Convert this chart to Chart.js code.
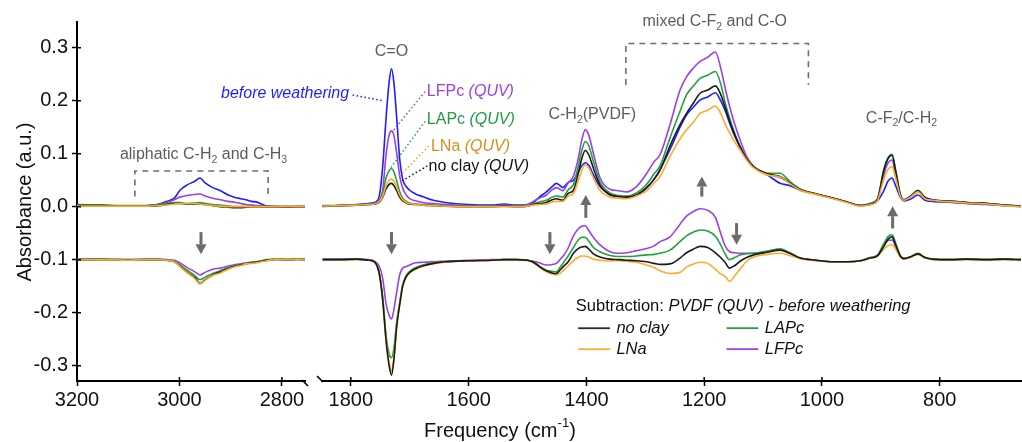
<!DOCTYPE html>
<html><head><meta charset="utf-8">
<script src="https://cdn.jsdelivr.net/npm/chart.js@4.4.1/dist/chart.umd.min.js"></script>
<style>html,body{margin:0;padding:0;background:#fff;}canvas{display:block;}</style>
</head><body>
<canvas id="c" width="1022" height="442"></canvas>
<script>
// ---------- tick labels ----------
const xTicksLeft = [3200, 3000, 2800];
const xTicksRight = [1800, 1600, 1400, 1200, 1000, 800];
const yTicks = [-0.3, -0.2, -0.1, 0.0, 0.1, 0.2, 0.3];

// ---------- frequencies (cm-1) ----------
const freqLeft = [3200,3150,3100,3060,3040, 3025,3010,2999,2985,2970, 2960,2950,2935,2920,2905, 2890,2880,2870,2860,2850, 2840,2829,2810,2790,2770, 2755];
const freqRight = [1848,1820,1790,1770,1760, 1752,1746,1740,1735,1731, 1727,1722,1717,1712,1706, 1700,1690,1678,1660,1640,
  1600,1560,1540,1520,1500, 1490,1480,1468,1458,1451, 1445,1440,1431,1422,1414, 1408,1402,1396,1388,1377,
  1360,1345,1332,1315,1298, 1285,1275,1258,1241,1230, 1218,1207,1194,1181,1172, 1164,1157,1148,1139,1128,
  1116,1093,1071,1055,1037, 1010,981,955,935,918, 906,895,888,881,875, 867,861,850,837,825, 812,780,755,720,690, 662];

// ---------- upper spectra, left region ----------
const beforeLeft = [0.003,0.002,0.001,0.002,0.005, 0.010,0.016,0.031,0.041,0.048, 0.054,0.045,0.036,0.030,0.022, 0.017,0.015,0.013,0.010,0.009, 0.005,0.001,0.000,0.000,0.000, -0.001];
const lfpcLeft = [0.002,0.002,0.001,0.002,0.004, 0.008,0.013,0.018,0.021,0.023, 0.024,0.020,0.016,0.013,0.010, 0.008,0.006,0.004,0.003,0.002, 0.001,0.000,0.000,0.000,0.000, 0.000];
const lapcLeft = [0.004,0.003,0.002,0.002,0.004, 0.006,0.008,0.008,0.006,0.007, 0.008,0.006,0.004,0.003,0.001, 0.000,0.000,0.000,0.000,0.000, 0.000,0.000,0.000,0.000,0.000, 0.000];
const noclayLeft = [0.002,0.002,0.001,0.001,0.002, 0.004,0.006,0.006,0.005,0.005, 0.005,0.004,0.002,0.000,-0.001, -0.002,-0.002,-0.001,0.000,0.000, 0.000,0.000,0.000,-0.001,0.000, 0.000];
const lnaLeft = [0.001,0.001,0.001,0.001,0.002, 0.003,0.005,0.006,0.006,0.006, 0.005,0.004,0.002,0.001,0.000, 0.000,0.000,0.000,0.000,0.000, 0.000,0.000,0.000,0.000,0.000, 0.000];

// ---------- subtraction spectra, left region ----------
const subNoclayLeft = [-0.100,-0.100,-0.101,-0.100,-0.100, -0.101,-0.104,-0.112,-0.124,-0.134, -0.145,-0.138,-0.129,-0.123,-0.117, -0.112,-0.110,-0.108,-0.106,-0.105, -0.103,-0.101,-0.099,-0.100,-0.099, -0.100];
const subLnaLeft = [-0.100,-0.100,-0.101,-0.100,-0.100, -0.101,-0.104,-0.113,-0.125,-0.136, -0.146,-0.139,-0.130,-0.125,-0.118, -0.113,-0.111,-0.108,-0.107,-0.106, -0.104,-0.102,-0.099,-0.100,-0.099, -0.100];
const subLapcLeft = [-0.100,-0.099,-0.100,-0.100,-0.100, -0.101,-0.103,-0.110,-0.120,-0.130, -0.138,-0.133,-0.126,-0.121,-0.115, -0.111,-0.109,-0.107,-0.105,-0.104, -0.102,-0.100,-0.099,-0.100,-0.099, -0.099];
const subLfpcLeft = [-0.099,-0.099,-0.100,-0.099,-0.099, -0.100,-0.101,-0.106,-0.115,-0.123, -0.129,-0.124,-0.118,-0.116,-0.112, -0.109,-0.108,-0.106,-0.105,-0.104, -0.103,-0.101,-0.100,-0.100,-0.100, -0.100];

// ---------- upper spectra, right region ----------
const beforeRight = [0.001,0.002,0.004,0.006,0.008, 0.019,0.075,0.170,0.235,0.260, 0.235,0.165,0.090,0.052,0.038, 0.031,0.024,0.019,0.012,0.008,
  0.004,0.003,0.005,0.003,0.004, 0.008,0.018,0.028,0.038,0.044, 0.040,0.036,0.046,0.050,0.065, 0.077,0.083,0.078,0.060,0.038,
  0.024,0.020,0.018,0.022,0.035, 0.052,0.070,0.108,0.150,0.173, 0.188,0.201,0.207,0.215,0.200, 0.180,0.158,0.133,0.113,0.092,
  0.075,0.060,0.044,0.040,0.031, 0.024,0.016,0.008,0.002,0.004, 0.011,0.030,0.048,0.054,0.040, 0.018,0.011,0.014,0.022,0.012, 0.010,0.008,0.006,0.004,0.002, 0.000];
const lfpcRight = [0.000,0.002,0.003,0.005,0.006, 0.012,0.031,0.100,0.135,0.143, 0.135,0.100,0.057,0.035,0.022, 0.015,0.011,0.008,0.006,0.004,
  0.002,0.001,0.003,0.002,0.004, 0.010,0.016,0.022,0.032,0.036, 0.033,0.030,0.045,0.058,0.090, 0.125,0.145,0.135,0.100,0.055,
  0.033,0.030,0.028,0.038,0.062, 0.085,0.098,0.155,0.220,0.245, 0.262,0.274,0.282,0.292,0.262, 0.222,0.190,0.155,0.126,0.095,
  0.076,0.062,0.055,0.045,0.033, 0.024,0.016,0.008,0.002,0.006, 0.014,0.060,0.082,0.088,0.060, 0.022,0.013,0.018,0.028,0.016, 0.012,0.010,0.008,0.006,0.003, 0.001];
const lapcRight = [0.002,0.002,0.003,0.004,0.005, 0.010,0.025,0.055,0.068,0.072, 0.066,0.048,0.028,0.016,0.010, 0.007,0.005,0.004,0.003,0.002,
  0.001,0.001,0.001,0.001,0.002, 0.005,0.009,0.012,0.018,0.020, 0.019,0.018,0.032,0.042,0.075, 0.105,0.123,0.115,0.085,0.047,
  0.026,0.021,0.020,0.026,0.042, 0.062,0.077,0.130,0.180,0.211, 0.228,0.242,0.248,0.255,0.232, 0.195,0.168,0.138,0.113,0.090,
  0.075,0.063,0.063,0.048,0.033, 0.024,0.016,0.008,0.002,0.006, 0.014,0.070,0.092,0.099,0.070, 0.024,0.013,0.020,0.031,0.018, 0.013,0.010,0.008,0.006,0.003, 0.001];
const noclayRight = [0.001,0.002,0.003,0.004,0.005, 0.008,0.018,0.034,0.042,0.044, 0.040,0.030,0.018,0.011,0.007, 0.005,0.004,0.003,0.002,0.001,
  0.000,0.000,0.001,0.000,0.001, 0.004,0.006,0.008,0.013,0.015, 0.013,0.012,0.025,0.031,0.062, 0.090,0.106,0.098,0.072,0.041,
  0.022,0.019,0.018,0.022,0.036, 0.052,0.069,0.115,0.155,0.176, 0.196,0.214,0.220,0.228,0.212, 0.186,0.162,0.135,0.113,0.090,
  0.075,0.062,0.057,0.045,0.032, 0.024,0.016,0.008,0.002,0.005, 0.013,0.068,0.090,0.097,0.068, 0.023,0.013,0.019,0.030,0.017, 0.013,0.010,0.008,0.006,0.003, 0.001];
const lnaRight = [0.001,0.002,0.003,0.004,0.005, 0.009,0.020,0.040,0.050,0.052, 0.048,0.036,0.022,0.013,0.008, 0.006,0.004,0.003,0.002,0.001,
  0.000,0.000,0.000,0.000,0.001, 0.003,0.004,0.005,0.009,0.010, 0.010,0.010,0.020,0.025,0.048, 0.068,0.079,0.073,0.054,0.031,
  0.018,0.016,0.015,0.020,0.030, 0.045,0.057,0.095,0.128,0.145, 0.160,0.176,0.182,0.190,0.176, 0.155,0.140,0.122,0.107,0.088,
  0.073,0.060,0.056,0.044,0.031, 0.023,0.015,0.007,0.001,0.004, 0.011,0.052,0.070,0.075,0.055, 0.020,0.012,0.018,0.028,0.015, 0.012,0.009,0.007,0.005,0.002, 0.000];

// ---------- subtraction spectra, right region ----------
const subNoclayRight = [-0.100,-0.100,-0.099,-0.101,-0.104, -0.125,-0.175,-0.255,-0.300,-0.318, -0.290,-0.225,-0.185,-0.150,-0.132, -0.124,-0.117,-0.112,-0.107,-0.104,
  -0.102,-0.101,-0.100,-0.100,-0.101, -0.105,-0.113,-0.121,-0.125,-0.126, -0.120,-0.114,-0.104,-0.088,-0.079, -0.076,-0.075,-0.080,-0.089,-0.095,
  -0.099,-0.100,-0.101,-0.102,-0.104, -0.107,-0.109,-0.108,-0.097,-0.087, -0.080,-0.075,-0.077,-0.087,-0.096, -0.106,-0.116,-0.111,-0.103,-0.096,
  -0.091,-0.086,-0.082,-0.088,-0.097, -0.101,-0.104,-0.104,-0.102,-0.097, -0.093,-0.075,-0.062,-0.057,-0.072, -0.093,-0.098,-0.095,-0.089,-0.096, -0.099,-0.100,-0.099,-0.100,-0.099, -0.100];
const subLapcRight = [-0.100,-0.100,-0.099,-0.101,-0.104, -0.123,-0.170,-0.245,-0.278,-0.285, -0.268,-0.215,-0.180,-0.147,-0.130, -0.122,-0.115,-0.110,-0.106,-0.104,
  -0.102,-0.101,-0.100,-0.100,-0.101, -0.104,-0.112,-0.120,-0.122,-0.123, -0.115,-0.107,-0.093,-0.077,-0.063, -0.058,-0.058,-0.065,-0.077,-0.085,
  -0.092,-0.094,-0.094,-0.093,-0.091, -0.090,-0.088,-0.082,-0.066,-0.055, -0.048,-0.044,-0.046,-0.056,-0.072, -0.090,-0.100,-0.096,-0.091,-0.089,
  -0.088,-0.084,-0.080,-0.087,-0.097, -0.101,-0.104,-0.104,-0.102,-0.096, -0.092,-0.070,-0.057,-0.053,-0.068, -0.092,-0.098,-0.095,-0.088,-0.096, -0.099,-0.100,-0.099,-0.100,-0.099, -0.100];
const subLfpcRight = [-0.099,-0.099,-0.099,-0.100,-0.103, -0.112,-0.135,-0.185,-0.205,-0.212, -0.195,-0.160,-0.128,-0.116,-0.113, -0.110,-0.106,-0.105,-0.104,-0.103,
  -0.101,-0.100,-0.100,-0.100,-0.101, -0.103,-0.106,-0.110,-0.109,-0.107, -0.100,-0.094,-0.078,-0.055,-0.042, -0.037,-0.036,-0.045,-0.058,-0.072,
  -0.085,-0.088,-0.087,-0.083,-0.079, -0.074,-0.066,-0.057,-0.033,-0.018, -0.009,-0.004,-0.007,-0.020,-0.050, -0.075,-0.085,-0.087,-0.088,-0.088,
  -0.088,-0.084,-0.080,-0.087,-0.097, -0.101,-0.104,-0.104,-0.102,-0.096, -0.092,-0.072,-0.064,-0.063,-0.074, -0.093,-0.098,-0.095,-0.089,-0.096, -0.099,-0.100,-0.099,-0.100,-0.099, -0.100];
const subLnaRight = [-0.100,-0.101,-0.100,-0.101,-0.105, -0.127,-0.178,-0.255,-0.295,-0.310, -0.285,-0.222,-0.183,-0.150,-0.133, -0.125,-0.118,-0.112,-0.108,-0.105,
  -0.102,-0.101,-0.100,-0.101,-0.102, -0.106,-0.114,-0.123,-0.127,-0.129, -0.126,-0.121,-0.112,-0.102,-0.096, -0.093,-0.093,-0.095,-0.099,-0.101,
  -0.102,-0.102,-0.103,-0.105,-0.110, -0.115,-0.121,-0.126,-0.124,-0.114, -0.108,-0.105,-0.107,-0.118,-0.127, -0.132,-0.141,-0.130,-0.118,-0.103,
  -0.095,-0.090,-0.088,-0.092,-0.098, -0.102,-0.104,-0.104,-0.102,-0.097, -0.094,-0.080,-0.074,-0.072,-0.080, -0.095,-0.099,-0.096,-0.090,-0.097, -0.100,-0.100,-0.100,-0.100,-0.100, -0.100];

// ---------- styling ----------
const FONT = '"Liberation Sans", Arial, Helvetica, sans-serif';
const C = { blue: '#1e1eff', purple: '#9a40e8', green: '#24a03c', orange: '#ffaa2a', black: '#1a1a1a' };
const GRAY = '#5c5c5c';

function pts(freq, vals) { return freq.map((f, i) => ({ x: f, y: vals[i] })); }
function line(label, freq, vals, color, axis) {
  return { label, data: pts(freq, vals), borderColor: color, backgroundColor: color, borderWidth: 1.6,
    pointRadius: 0, fill: false, cubicInterpolationMode: 'monotone', xAxisID: axis, yAxisID: 'y' };
}

const datasets = [
  line('LNa (QUV)', freqLeft, lnaLeft, C.orange, 'xL'),
  line('no clay (QUV)', freqLeft, noclayLeft, C.black, 'xL'),
  line('LAPc (QUV)', freqLeft, lapcLeft, C.green, 'xL'),
  line('LFPc (QUV)', freqLeft, lfpcLeft, C.purple, 'xL'),
  line('before weathering', freqLeft, beforeLeft, C.blue, 'xL'),
  line('sub LNa', freqLeft, subLnaLeft, C.orange, 'xL'),
  line('sub no clay', freqLeft, subNoclayLeft, C.black, 'xL'),
  line('sub LAPc', freqLeft, subLapcLeft, C.green, 'xL'),
  line('sub LFPc', freqLeft, subLfpcLeft, C.purple, 'xL'),
  line('LNa (QUV)', freqRight, lnaRight, C.orange, 'xR'),
  line('no clay (QUV)', freqRight, noclayRight, C.black, 'xR'),
  line('LAPc (QUV)', freqRight, lapcRight, C.green, 'xR'),
  line('LFPc (QUV)', freqRight, lfpcRight, C.purple, 'xR'),
  line('before weathering', freqRight, beforeRight, C.blue, 'xR'),
  line('sub no clay', freqRight, subNoclayRight, C.black, 'xR'),
  line('sub LNa', freqRight, subLnaRight, C.orange, 'xR'),
  line('sub LAPc', freqRight, subLapcRight, C.green, 'xR'),
  line('sub LFPc', freqRight, subLfpcRight, C.purple, 'xR')
];

function rich(ctx, parts, x, yMid, align, size, color) {
  let w = 0;
  const info = parts.map(p => {
    const st = p[1] || 'n';
    const small = (st === 'sub' || st === 'sup');
    const sz = small ? size * 0.66 : size;
    const f = (st === 'i' ? 'italic ' : '') + sz + 'px ' + FONT;
    ctx.font = f;
    const pw = ctx.measureText(p[0]).width;
    w += pw;
    return { f, pw, dy: st === 'sub' ? size * 0.32 : (st === 'sup' ? -size * 0.38 : 0) };
  });
  let cx = align === 'center' ? x - w / 2 : (align === 'right' ? x - w : x);
  ctx.textBaseline = 'middle'; ctx.textAlign = 'left';
  parts.forEach((p, i) => {
    ctx.font = info[i].f; ctx.fillStyle = p[2] || color;
    ctx.fillText(p[0], cx, yMid + info[i].dy);
    cx += info[i].pw;
  });
}

const decor = {
  id: 'decor',
  afterDraw(chart) {
    const ctx = chart.ctx;
    const xL = chart.scales.xL, xR = chart.scales.xR, ys = chart.scales.y;
    const XL = f => xL.getPixelForValue(f), XR = f => xR.getPixelForValue(f), Y = v => ys.getPixelForValue(v);
    const axisY = ys.bottom, axisX = ys.right;
    ctx.save();
    // inner halves of tick marks
    ctx.strokeStyle = '#000'; ctx.lineWidth = 1.5;
    ctx.beginPath();
    yTicks.forEach(v => { const p = Y(v); ctx.moveTo(axisX, p); ctx.lineTo(axisX + 4, p); });
    xTicksLeft.forEach(f => { const p = XL(f); ctx.moveTo(p, axisY); ctx.lineTo(p, axisY - 4); });
    xTicksRight.forEach(f => { const p = XR(f); ctx.moveTo(p, axisY); ctx.lineTo(p, axisY - 4); });
    ctx.stroke();
    // axis break marks
    ctx.lineWidth = 1.6;
    ctx.beginPath();
    ctx.moveTo(xL.right - 3, axisY - 1); ctx.lineTo(xL.right + 3, axisY + 5);
    ctx.moveTo(xR.left - 5, axisY - 5); ctx.lineTo(xR.left + 1, axisY + 1);
    ctx.stroke();

    // axis titles
    ctx.fillStyle = '#111';
    ctx.save();
    ctx.translate(25, 202);
    ctx.rotate(-Math.PI / 2);
    ctx.font = '20px ' + FONT; ctx.textAlign = 'center'; ctx.textBaseline = 'middle';
    ctx.fillText('Absorbance (a.u.)', 0, 0);
    ctx.restore();
    rich(ctx, [['Frequency (cm'], ['-1', 'sup'], [')']], 500, 431, 'center', 20, '#111');

    // dashed brackets
    ctx.strokeStyle = '#6e6e6e'; ctx.lineWidth = 1.6; ctx.setLineDash([6, 5]);
    ctx.beginPath();
    ctx.moveTo(XL(3087), Y(0.019)); ctx.lineTo(XL(3087), Y(0.0674)); ctx.lineTo(XL(2827), Y(0.0674)); ctx.lineTo(XL(2827), Y(0.019));
    ctx.moveTo(XR(1333), Y(0.2296)); ctx.lineTo(XR(1333), Y(0.308)); ctx.lineTo(XR(1023), Y(0.308)); ctx.lineTo(XR(1023), Y(0.2296));
    ctx.stroke();
    ctx.setLineDash([]);

    // group labels
    rich(ctx, [['aliphatic C-H'], ['2', 'sub'], [' and C-H'], ['3', 'sub']], XL(2953), Y(0.0975), 'center', 16, GRAY);
    rich(ctx, [['C=O']], XR(1731), Y(0.2925), 'center', 16, GRAY);
    rich(ctx, [['C-H'], ['2', 'sub'], ['(PVDF)']], XR(1390), Y(0.173), 'center', 16, GRAY);
    rich(ctx, [['mixed C-F'], ['2', 'sub'], [' and C-O']], XR(1182), Y(0.349), 'center', 16, GRAY);
    rich(ctx, [['C-F'], ['2', 'sub'], ['/C-H'], ['2', 'sub']], XR(865), Y(0.1668), 'center', 16, GRAY);

    // series labels with dotted leaders
    ctx.lineWidth = 1.5; ctx.setLineDash([1.5, 2.5]);
    const leaders = [
      [C.blue, 1797, 0.2108, 1746, 0.200],
      [C.purple, 1674, 0.217, 1730, 0.141],
      [C.green, 1674, 0.161, 1733, 0.072],
      ['#f0a020', 1668, 0.114, 1717, 0.058],
      ['#222', 1670, 0.0768, 1713, 0.049]
    ];
    leaders.forEach(l => { ctx.strokeStyle = l[0]; ctx.beginPath(); ctx.moveTo(XR(l[1]), Y(l[2])); ctx.lineTo(XR(l[3]), Y(l[4])); ctx.stroke(); });
    ctx.setLineDash([]);
    rich(ctx, [['before weathering', 'i']], XR(1803), Y(0.2128), 'right', 16, C.blue);
    rich(ctx, [['LFPc '], ['(QUV)', 'i']], XR(1671), Y(0.217), 'left', 16, C.purple);
    rich(ctx, [['LAPc '], ['(QUV)', 'i']], XR(1671), Y(0.164), 'left', 16, '#1f9d45');
    rich(ctx, [['LNa '], ['(QUV)', 'i']], XR(1664), Y(0.113), 'left', 16, '#d4901e');
    rich(ctx, [['no clay '], ['(QUV)', 'i']], XR(1668), Y(0.0765), 'left', 16, '#111');

    // arrows
    function arrow(x, y0, y1) {
      const dir = y1 > y0 ? 1 : -1, head = 10, hw = 5.5;
      ctx.strokeStyle = '#6b6b6b'; ctx.fillStyle = '#6b6b6b'; ctx.lineWidth = 3;
      ctx.beginPath(); ctx.moveTo(x, y0); ctx.lineTo(x, y1 - dir * head); ctx.stroke();
      ctx.beginPath(); ctx.moveTo(x - hw, y1 - dir * head); ctx.lineTo(x + hw, y1 - dir * head); ctx.lineTo(x, y1); ctx.closePath(); ctx.fill();
    }
    arrow(XL(2958), Y(-0.048), Y(-0.090));
    arrow(XR(1731), Y(-0.048), Y(-0.090));
    arrow(XR(1462), Y(-0.048), Y(-0.090));
    arrow(XR(1401), Y(-0.021), Y(0.022));
    arrow(XR(1204), Y(0.019), Y(0.057));
    arrow(XR(1145), Y(-0.031), Y(-0.072));
    arrow(XR(880), Y(-0.041), Y(0.001));

    // legend for subtraction spectra
    rich(ctx, [['Subtraction: '], ['PVDF (QUV) - before weathering', 'i']], XR(1418), Y(-0.188), 'left', 16.5, '#111');
    const leg = [
      ['#2a2a2a', 1414, 1360, 1349, -0.2294, 'no clay'],
      [C.orange, 1414, 1360, 1349, -0.269, 'LNa'],
      [C.green, 1162, 1108, 1097, -0.2294, 'LAPc'],
      [C.purple, 1162, 1108, 1097, -0.269, 'LFPc']
    ];
    leg.forEach(e => {
      ctx.strokeStyle = e[0]; ctx.lineWidth = 1.8;
      ctx.beginPath(); ctx.moveTo(XR(e[1]), Y(e[4])); ctx.lineTo(XR(e[2]), Y(e[4])); ctx.stroke();
      rich(ctx, [[e[5], 'i']], XR(e[3]), Y(e[4]), 'left', 16.5, '#111');
    });
    ctx.restore();
  }
};

function noPad(s) { s.paddingLeft = 0; s.paddingRight = 0; s.paddingTop = 0; s.paddingBottom = 0; }
const tickFont = { family: FONT, size: 20 };
function xAxis(weight, min, max, ticksArr) {
  return {
    type: 'linear', position: 'bottom', stack: 'freq', stackWeight: weight, reverse: true, min, max,
    afterBuildTicks: s => { s.ticks = ticksArr.map(v => ({ value: v })); },
    afterFit: s => { s.height = 61; noPad(s); },
    grid: { display: true, drawOnChartArea: false, drawTicks: true, tickLength: 5, tickWidth: 1.5, tickColor: '#000' },
    border: { display: true, color: '#000', width: 2 },
    ticks: { color: '#111', font: tickFont, padding: 2, maxRotation: 0, autoSkip: false, callback: v => String(v) }
  };
}

new Chart(document.getElementById('c'), {
  type: 'line',
  data: { datasets },
  options: {
    responsive: false, animation: false, devicePixelRatio: 1,
    layout: { padding: { left: 0, right: 1, top: 22, bottom: 0 } },
    plugins: { legend: { display: false }, tooltip: { enabled: false } },
    scales: {
      xL: xAxis(228, 2755, 3200, xTicksLeft),
      xGap: { type: 'linear', position: 'bottom', stack: 'freq', stackWeight: 17, min: 0, max: 1,
        afterFit: s => { s.height = 61; noPad(s); }, grid: { display: false }, border: { display: false }, ticks: { display: false } },
      xR: xAxis(699, 662, 1849, xTicksRight),
      y: {
        type: 'linear', position: 'left', min: -0.329, max: 0.3485,
        afterBuildTicks: s => { s.ticks = yTicks.map(v => ({ value: v })); },
        afterFit: s => { s.width = 77; noPad(s); },
        grid: { display: true, drawOnChartArea: false, drawTicks: true, tickLength: 5, tickWidth: 1.5, tickColor: '#000' },
        border: { display: true, color: '#000', width: 2 },
        ticks: { color: '#111', font: tickFont, padding: 4, callback: v => v.toFixed(1) }
      }
    }
  },
  plugins: [decor]
});
</script>
</body></html>
